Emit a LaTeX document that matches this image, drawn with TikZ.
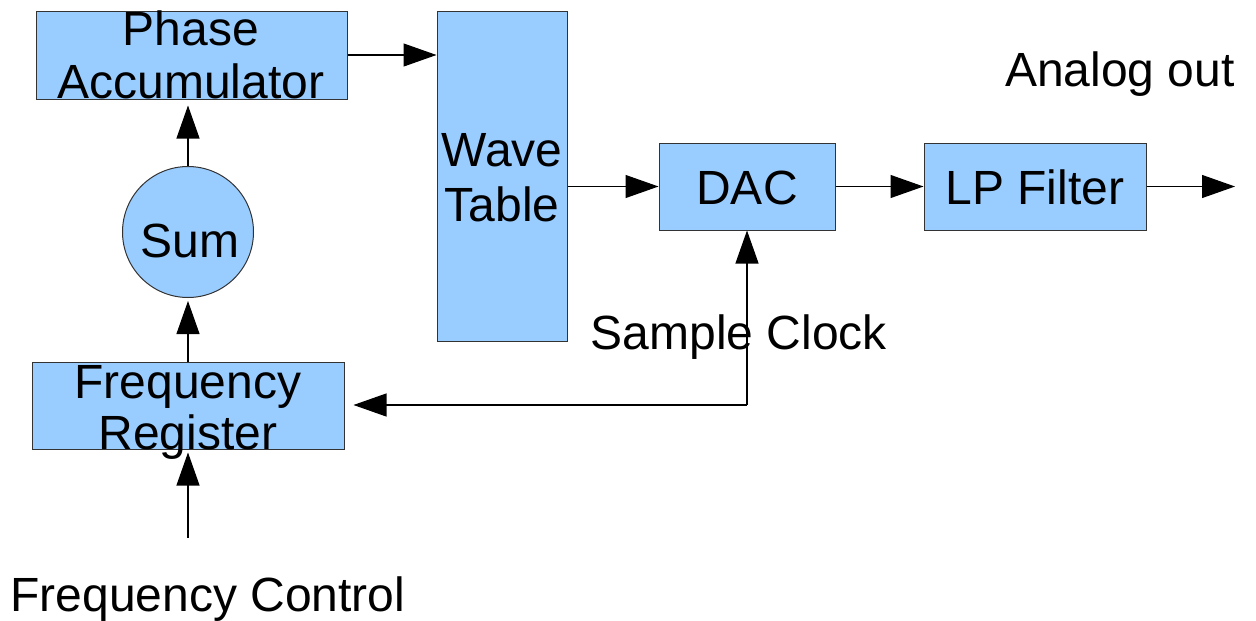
\documentclass[tikz,border=0pt]{standalone}
\usepackage{fontspec}
\setmainfont{Liberation Sans}
\usetikzlibrary{arrows.meta}
\definecolor{boxfill}{HTML}{99CCFF}
\definecolor{boxline}{HTML}{333333}
\tikzset{
  block/.style={draw=boxline, fill=boxfill, line width=1pt, rectangle, inner sep=0pt},
  sumnode/.style={draw=boxline, fill=boxfill, line width=1pt, circle, inner sep=0pt, minimum size=131pt},
  lbl/.style={anchor=base, inner sep=0pt, font=\fontsize{48pt}{53pt}\selectfont},
  arr/.style={draw=black, line width=1.1pt, -{Triangle[length=33pt, width=23pt]}},
}
\begin{document}
\begin{tikzpicture}[x=1pt, y=-1pt]
\useasboundingbox (0,0) rectangle (1256,621);

% blocks
\node[block, minimum width=311pt, minimum height=88pt] (pa) at (191.5,55) {};
\node[block, minimum width=130pt, minimum height=330pt] (wt) at (502,176) {};
\node[block, minimum width=176pt, minimum height=87pt] (dac) at (747,186.5) {};
\node[block, minimum width=222pt, minimum height=87pt] (lp) at (1035,186.5) {};
\node[block, minimum width=312pt, minimum height=87pt] (fr) at (188,405.5) {};
\node[sumnode] (sum) at (188,232) {};

% block texts
\node[lbl] (paA) at (191,45) {Phase};
\node[lbl] (paB) at (191,98) {Accumulator};
\node[lbl] (wtA) at (502,166) {Wave};
\node[lbl] (wtB) at (502,221) {Table};
\node[lbl] (dacT) at (747,204) {DAC};
\node[lbl] (lpT) at (1035,204) {LP Filter};
\node[lbl] (sumT) at (190,257) {Sum};
\node[lbl] (frA) at (188,398) {Frequency};
\node[lbl] (frB) at (188,449) {Register};

% free labels
\node[lbl] (aout) at (1120,86) {Analog out};
\node[lbl] (sclk) at (739,349) {Sample Clock};
\node[lbl] (fctl) at (208,611) {Frequency Control};

% connector end points
\coordinate (out) at (1235,186.5);
\coordinate (clk) at (747,405);
\coordinate (fin) at (188,538);

% connectors
\draw[arr] (pa.east) -- (pa.east -| wt.west);
\draw[arr, shorten >=6pt] (sum.north) -- (sum.north |- pa.south);
\draw[arr, shorten >=3pt] (fr.north) -- (sum.south);
\draw[arr, shorten >=3pt] (fin) -- (fr.south);
\draw[arr] (wt.east |- dac.west) -- (dac.west);
\draw[arr] (dac.east) -- (lp.west);
\draw[arr] (lp.east) -- (out);
\draw[arr] (clk) -- (dac.south);
\draw[arr, shorten >=9pt] (clk) -- (clk -| fr.east);
\end{tikzpicture}
\end{document}
